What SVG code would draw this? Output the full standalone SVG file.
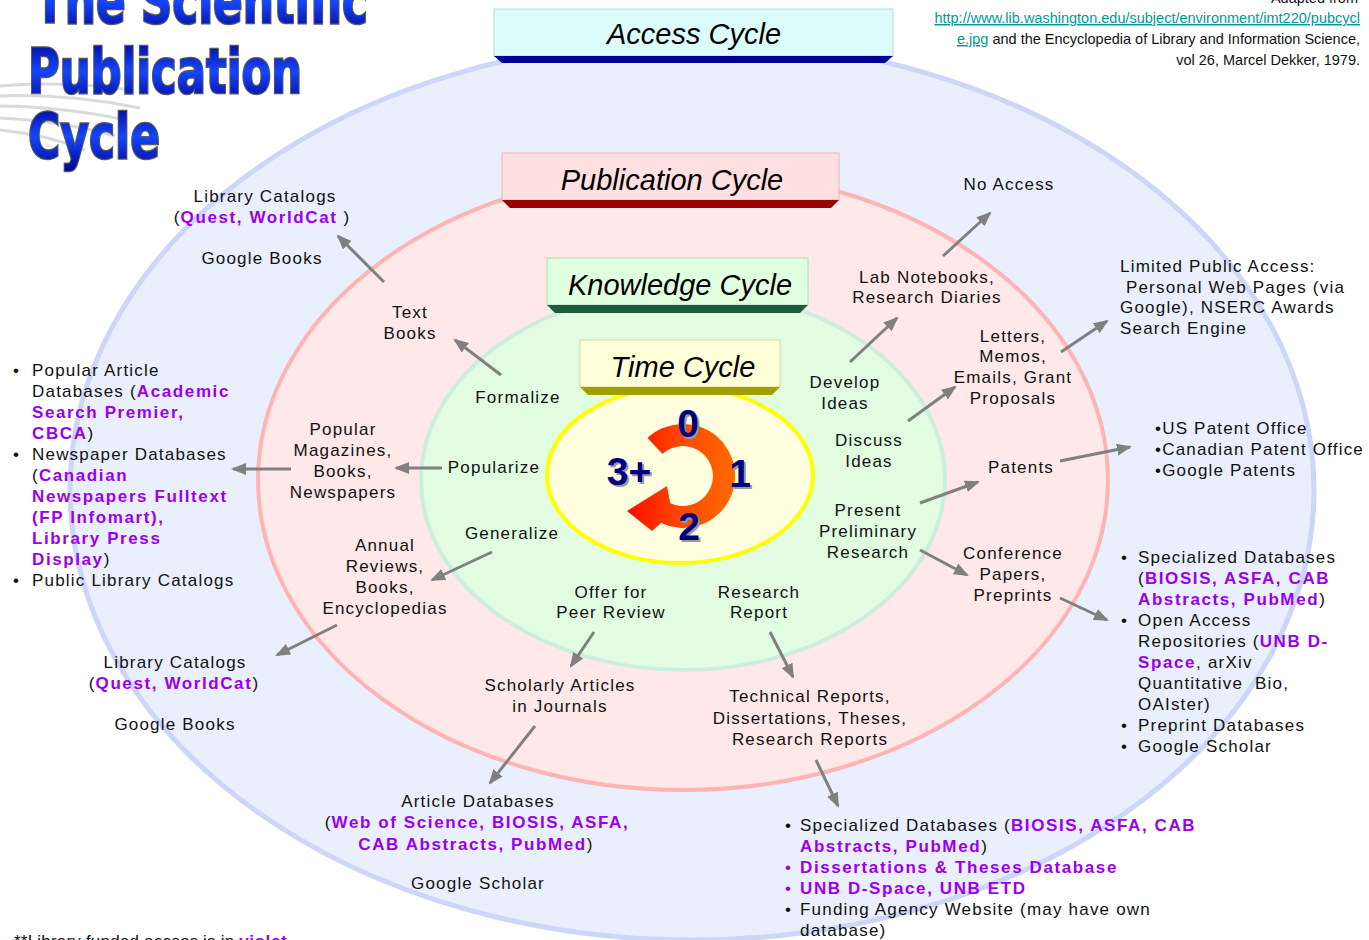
<svg xmlns="http://www.w3.org/2000/svg" width="1369" height="940" viewBox="0 0 1369 940">
<defs>
<style>
.t{font-family:"Liberation Sans",Arial,sans-serif;font-size:17px;letter-spacing:1.2px;fill:#111}
.v{font-weight:bold;fill:#9900ee;letter-spacing:1.6px}
.m{text-anchor:middle}
.box{font-family:"Liberation Sans",Arial,sans-serif;font-size:29px;font-style:italic;fill:#000;text-anchor:middle}
.num{font-family:"Liberation Sans",Arial,sans-serif;font-size:39px;font-weight:bold;text-anchor:middle}
.cit{font-family:"Liberation Sans Narrow","Liberation Sans",Arial,sans-serif;font-size:14.5px;fill:#111;text-anchor:end}
.lnk{fill:#009999;text-decoration:underline}
.ttl{font-family:"DejaVu Sans Condensed","DejaVu Sans",sans-serif;font-weight:bold;font-size:62px;fill:url(#tg);stroke:#5a5a5a;stroke-width:2.5px;paint-order:stroke}
.arr{stroke:#808080;stroke-width:3;fill:none;marker-end:url(#ah)}
</style>
<marker id="ah" markerUnits="userSpaceOnUse" markerWidth="16" markerHeight="14" refX="13" refY="6" orient="auto">
<path d="M0,0 L15,6 L0,12 z" fill="#808080"/>
</marker>
<linearGradient id="tg" x1="0" y1="0" x2="0" y2="1">
<stop offset="0" stop-color="#00008a"/>
<stop offset="0.5" stop-color="#1446ff"/>
<stop offset="1" stop-color="#00008a"/>
</linearGradient>
<linearGradient id="og" x1="0" y1="0" x2="1" y2="0">
<stop offset="0" stop-color="#ff0a00"/>
<stop offset="0.45" stop-color="#ff4400"/>
<stop offset="1" stop-color="#ff6a00"/>
</linearGradient>
</defs>

<g id="access-cycle-area">
<ellipse cx="692" cy="490" rx="622" ry="450" fill="#e9effc" stroke="#cbd6f8" stroke-width="5"/>
</g>
<g id="publication-cycle-area">
<ellipse cx="683" cy="480" rx="425" ry="310" fill="#ffe8e8" stroke="#ffb4b4" stroke-width="4"/>
</g>
<g id="knowledge-cycle-area">
<ellipse cx="683" cy="480" rx="262" ry="190" fill="#e1fce1" stroke="#cdeedd" stroke-width="4"/>
</g>
<g id="time-cycle-area">
<ellipse cx="680" cy="475" rx="133" ry="88" fill="#ffffe0" stroke="#ffff00" stroke-width="4"/>
</g>

<g id="title">
<path d="M0,86 C40,82 90,84 130,90 M0,96 C50,94 100,100 140,108 M0,106 C40,106 90,112 125,120 M0,118 C40,120 80,126 115,136 M0,130 C30,133 60,140 85,150" stroke="#dadada" stroke-width="3" fill="none"/>
<text class="ttl" x="35" y="23" textLength="333" lengthAdjust="spacingAndGlyphs">The Scientific</text>
<text class="ttl" x="28" y="93" textLength="274" lengthAdjust="spacingAndGlyphs">Publication</text>
<text class="ttl" x="28" y="158" textLength="132" lengthAdjust="spacingAndGlyphs">Cycle</text>
</g>

<g id="citation">
<text class="cit" x="1358" y="3">Adapted from</text>
<text class="cit" x="1360" y="23"><tspan class="lnk">http://www.lib.washington.edu/subject/environment/imt220/pubcycl</tspan></text>
<text class="cit" x="1360" y="44"><tspan class="lnk">e.jpg</tspan> and the Encyclopedia of Library and Information Science,</text>
<text class="cit" x="1360" y="65">vol 26, Marcel Dekker, 1979.</text>
</g>

<g id="access-cycle-box">
<rect x="494" y="9" width="399" height="47" fill="#dcfcfc" stroke="#bcdada" stroke-width="1"/>
<polygon points="494,56 893,56 885,63 502,63" fill="#000099"/>
<text class="box" x="694" y="44">Access Cycle</text>
</g>
<g id="publication-cycle-box">
<rect x="502" y="153" width="337" height="47" fill="#ffdfe0" stroke="#f0b4b4" stroke-width="1"/>
<polygon points="502,200 839,200 831,208 510,208" fill="#990000"/>
<text class="box" x="672" y="190">Publication Cycle</text>
</g>
<g id="knowledge-cycle-box">
<rect x="547" y="258" width="261" height="47" fill="#e0ffe0" stroke="#b4d8b4" stroke-width="1"/>
<polygon points="547,305 808,305 800,313 555,313" fill="#1e5a3c"/>
<text class="box" x="680" y="295">Knowledge Cycle</text>
</g>
<g id="time-cycle-box">
<rect x="580" y="340" width="200" height="47" fill="#ffffd8" stroke="#d8d8a0" stroke-width="1"/>
<polygon points="580,387 780,387 772,395 588,395" fill="#a0a000"/>
<text class="box" x="683" y="377">Time Cycle</text>
</g>

<g id="time-wheel">
<path d="M647.5,438 A52,52 0 1 1 661,523 L652,531 L627,511 L667,486 L670.3,503.2 A30,30 0 1 0 662.5,454 Z" fill="url(#og)"/>
<g fill="#9a9a9a">
<text class="num" x="690" y="439">0</text>
<text class="num" x="742" y="489">1</text>
<text class="num" x="691" y="542">2</text>
<text class="num" x="631" y="487">3+</text>
</g>
<g fill="#000080">
<text class="num" x="688" y="437">0</text>
<text class="num" x="740" y="487">1</text>
<text class="num" x="689" y="540">2</text>
<text class="num" x="629" y="485">3+</text>
</g>
</g>

<g id="connectors">
<line class="arr" x1="384" y1="282" x2="338" y2="236"/>
<line class="arr" x1="501" y1="375" x2="455" y2="340"/>
<line class="arr" x1="442" y1="468" x2="396" y2="468"/>
<line class="arr" x1="291" y1="469" x2="233" y2="469"/>
<line class="arr" x1="492" y1="552" x2="432" y2="580"/>
<line class="arr" x1="337" y1="625" x2="277" y2="655"/>
<line class="arr" x1="594" y1="632" x2="571" y2="666"/>
<line class="arr" x1="535" y1="726" x2="490" y2="783"/>
<line class="arr" x1="770" y1="632" x2="793" y2="677"/>
<line class="arr" x1="816" y1="760" x2="838" y2="806"/>
<line class="arr" x1="943" y1="256" x2="990" y2="213"/>
<line class="arr" x1="850" y1="362" x2="897" y2="318"/>
<line class="arr" x1="908" y1="421" x2="955" y2="387"/>
<line class="arr" x1="1061" y1="352" x2="1107" y2="321"/>
<line class="arr" x1="920" y1="503" x2="978" y2="482"/>
<line class="arr" x1="1060" y1="461" x2="1130" y2="447"/>
<line class="arr" x1="920" y1="550" x2="967" y2="575"/>
<line class="arr" x1="1060" y1="598" x2="1107" y2="620"/>
</g>

<g id="library-catalogs-top">
<text class="t m" x="265" y="202">Library Catalogs</text>
<text class="t m" x="262" y="223">(<tspan class="v">Quest, WorldCat</tspan> )</text>
<text class="t m" x="262" y="264">Google Books</text>
</g>
<g id="text-books">
<text class="t m" x="410" y="318">Text</text>
<text class="t m" x="410" y="339">Books</text>
</g>
<g id="formalize"><text class="t m" x="518" y="403">Formalize</text></g>
<g id="popularize"><text class="t m" x="494" y="473">Popularize</text></g>
<g id="popular-magazines">
<text class="t m" x="343" y="435">Popular</text>
<text class="t m" x="343" y="456">Magazines,</text>
<text class="t m" x="343" y="477">Books,</text>
<text class="t m" x="343" y="498">Newspapers</text>
</g>
<g id="left-list">
<text class="t" x="13" y="376">•</text>
<text class="t" x="32" y="376">Popular Article</text>
<text class="t" x="32" y="397">Databases (<tspan class="v">Academic</tspan></text>
<text class="t" x="32" y="418"><tspan class="v">Search Premier,</tspan></text>
<text class="t" x="32" y="439"><tspan class="v">CBCA</tspan>)</text>
<text class="t" x="13" y="460">•</text>
<text class="t" x="32" y="460">Newspaper Databases</text>
<text class="t" x="32" y="481">(<tspan class="v">Canadian</tspan></text>
<text class="t" x="32" y="502"><tspan class="v">Newspapers Fulltext</tspan></text>
<text class="t" x="32" y="523"><tspan class="v">(FP Infomart),</tspan></text>
<text class="t" x="32" y="544"><tspan class="v">Library Press</tspan></text>
<text class="t" x="32" y="565"><tspan class="v">Display</tspan>)</text>
<text class="t" x="13" y="586">•</text>
<text class="t" x="32" y="586">Public Library Catalogs</text>
</g>
<g id="generalize"><text class="t m" x="512" y="539">Generalize</text></g>
<g id="annual-reviews">
<text class="t m" x="385" y="551">Annual</text>
<text class="t m" x="385" y="572">Reviews,</text>
<text class="t m" x="385" y="593">Books,</text>
<text class="t m" x="385" y="614">Encyclopedias</text>
</g>
<g id="library-catalogs-bottom">
<text class="t m" x="175" y="668">Library Catalogs</text>
<text class="t m" x="174" y="689">(<tspan class="v">Quest, WorldCat</tspan>)</text>
<text class="t m" x="175" y="730">Google Books</text>
</g>
<g id="offer-peer-review">
<text class="t m" x="611" y="598">Offer for</text>
<text class="t m" x="611" y="618">Peer Review</text>
</g>
<g id="scholarly-articles">
<text class="t m" x="560" y="691">Scholarly Articles</text>
<text class="t m" x="560" y="712">in Journals</text>
</g>
<g id="article-databases">
<text class="t m" x="478" y="807">Article Databases</text>
<text class="t m" x="477" y="828">(<tspan class="v">Web of Science, BIOSIS, ASFA,</tspan></text>
<text class="t m" x="476" y="850"><tspan class="v">CAB Abstracts, PubMed</tspan>)</text>
<text class="t m" x="478" y="889">Google Scholar</text>
</g>
<g id="research-report">
<text class="t m" x="759" y="598">Research</text>
<text class="t m" x="759" y="618">Report</text>
</g>
<g id="technical-reports">
<text class="t m" x="810" y="702">Technical Reports,</text>
<text class="t m" x="810" y="724">Dissertations, Theses,</text>
<text class="t m" x="810" y="745">Research Reports</text>
</g>
<g id="bottom-list">
<text class="t" x="785" y="831">•</text>
<text class="t" x="800" y="831">Specialized Databases (<tspan class="v">BIOSIS, ASFA, CAB</tspan></text>
<text class="t" x="800" y="852"><tspan class="v">Abstracts, PubMed</tspan>)</text>
<text class="t" x="785" y="873" style="fill:#9900ee">•</text>
<text class="t" x="800" y="873"><tspan class="v">Dissertations &amp; Theses Database</tspan></text>
<text class="t" x="785" y="894" style="fill:#9900ee">•</text>
<text class="t" x="800" y="894"><tspan class="v">UNB D-Space, UNB ETD</tspan></text>
<text class="t" x="785" y="915">•</text>
<text class="t" x="800" y="915">Funding Agency Website (may have own</text>
<text class="t" x="800" y="936">database)</text>
</g>
<g id="footnote">
<text class="t" x="14" y="947" style="letter-spacing:0.2px">**Library funded access is in <tspan style="font-weight:bold;fill:#9900ee;letter-spacing:0.6px">violet</tspan></text>
</g>

<g id="no-access"><text class="t m" x="1009" y="190">No Access</text></g>
<g id="lab-notebooks">
<text class="t m" x="927" y="283">Lab Notebooks,</text>
<text class="t m" x="927" y="303">Research Diaries</text>
</g>
<g id="develop-ideas">
<text class="t m" x="845" y="388">Develop</text>
<text class="t m" x="845" y="409">Ideas</text>
</g>
<g id="letters-memos">
<text class="t m" x="1013" y="342">Letters,</text>
<text class="t m" x="1013" y="362">Memos,</text>
<text class="t m" x="1013" y="383">Emails, Grant</text>
<text class="t m" x="1013" y="404">Proposals</text>
</g>
<g id="limited-public-access">
<text class="t" x="1120" y="272">Limited Public Access:</text>
<text class="t" x="1120" y="293" xml:space="preserve"> Personal Web Pages (via</text>
<text class="t" x="1120" y="313">Google), NSERC Awards</text>
<text class="t" x="1120" y="334">Search Engine</text>
</g>
<g id="discuss-ideas">
<text class="t m" x="869" y="446">Discuss</text>
<text class="t m" x="869" y="467">Ideas</text>
</g>
<g id="patents"><text class="t m" x="1021" y="473">Patents</text></g>
<g id="patent-list">
<text class="t" x="1155" y="434">•US Patent Office</text>
<text class="t" x="1155" y="455">•Canadian Patent Office</text>
<text class="t" x="1155" y="476">•Google Patents</text>
</g>
<g id="present-research">
<text class="t m" x="868" y="516">Present</text>
<text class="t m" x="868" y="537">Preliminary</text>
<text class="t m" x="868" y="558">Research</text>
</g>
<g id="conference-papers">
<text class="t m" x="1013" y="559">Conference</text>
<text class="t m" x="1013" y="580">Papers,</text>
<text class="t m" x="1013" y="601">Preprints</text>
</g>
<g id="right-list">
<text class="t" x="1121" y="563">•</text>
<text class="t" x="1138" y="563">Specialized Databases</text>
<text class="t" x="1138" y="584">(<tspan class="v">BIOSIS, ASFA, CAB</tspan></text>
<text class="t" x="1138" y="605"><tspan class="v">Abstracts, PubMed</tspan>)</text>
<text class="t" x="1121" y="626">•</text>
<text class="t" x="1138" y="626">Open Access</text>
<text class="t" x="1138" y="647">Repositories (<tspan class="v">UNB D-</tspan></text>
<text class="t" x="1138" y="668"><tspan class="v">Space</tspan>, arXiv</text>
<text class="t" x="1138" y="689" xml:space="preserve">Quantitative  Bio,</text>
<text class="t" x="1138" y="710">OAIster)</text>
<text class="t" x="1121" y="731">•</text>
<text class="t" x="1138" y="731">Preprint Databases</text>
<text class="t" x="1121" y="752">•</text>
<text class="t" x="1138" y="752">Google Scholar</text>
</g>
</svg>
